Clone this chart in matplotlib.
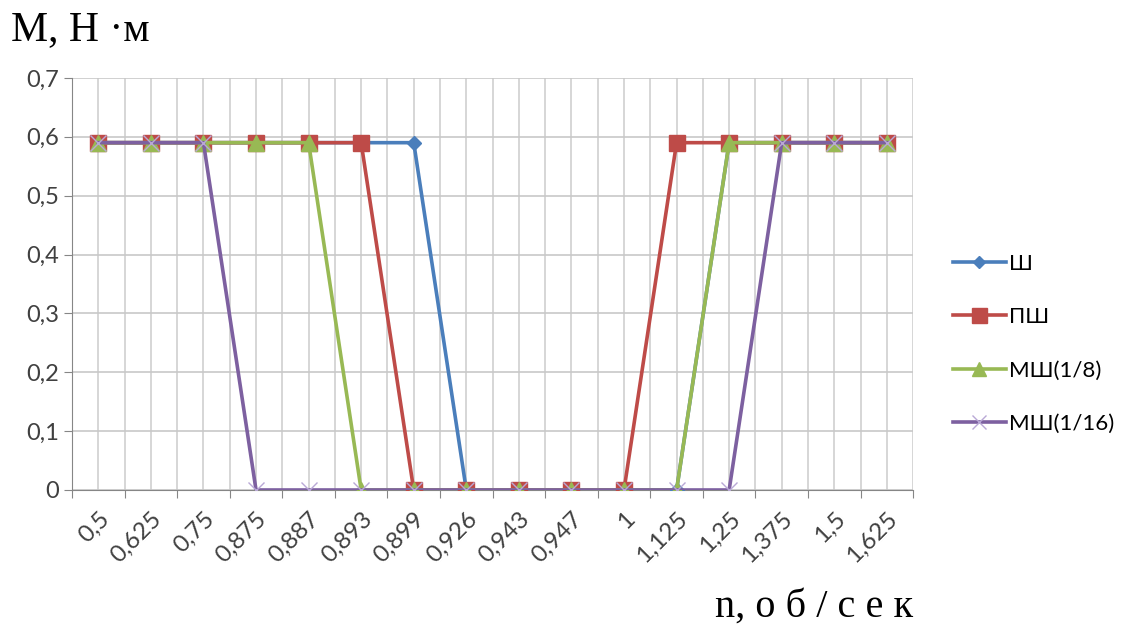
import matplotlib.pyplot as plt
from matplotlib.ticker import MultipleLocator, FuncFormatter

# speed categories, n (rev/s)
speeds = ['0,5', '0,625', '0,75', '0,875', '0,887', '0,893', '0,899', '0,926',
          '0,943', '0,947', '1', '1,125', '1,25', '1,375', '1,5', '1,625']

# torque M, N*m
sh     = [0.59, 0.59, 0.59, 0.59, 0.59, 0.59, 0.59, 0, 0, 0, 0, 0, 0.59, 0.59, 0.59, 0.59]
psh    = [0.59, 0.59, 0.59, 0.59, 0.59, 0.59, 0, 0, 0, 0, 0, 0.59, 0.59, 0.59, 0.59, 0.59]
msh8   = [0.59, 0.59, 0.59, 0.59, 0.59, 0, 0, 0, 0, 0, 0, 0, 0.59, 0.59, 0.59, 0.59]
msh16  = [0.59, 0.59, 0.59, 0, 0, 0, 0, 0, 0, 0, 0, 0, 0, 0.59, 0.59, 0.59]

names = ['Ш', 'ПШ', 'МШ(1/8)', 'МШ(1/16)']

fig = plt.figure(figsize=(11.29, 6.32), dpi=100)
ax = fig.add_axes([0.0638, 0.2247, 0.745, 0.652])

x = list(range(len(speeds)))
ax.plot(x, sh, color='#4a7ebb', lw=2.6, marker='D', ms=7, label=names[0], zorder=3)
ax.plot(x, psh, color='#be4b48', lw=2.6, marker='s', ms=12, label=names[1], zorder=3)
ax.plot(x, msh8, color='#98b954', lw=2.6, marker='^', ms=11, label=names[2], zorder=3)
ax.plot(x, msh16, color='#7d60a0', lw=2.6, marker='x', ms=11, mew=1,
        mec='#b9a8d6', label=names[3], zorder=3)

ax.set_xlim(-0.5, len(speeds) - 0.5)
ax.set_ylim(0, 0.7)
ax.yaxis.set_major_locator(MultipleLocator(0.1))
ax.yaxis.set_major_formatter(FuncFormatter(lambda v, p: ('%g' % round(v, 1)).replace('.', ',')))

# ticks at category boundaries, labels at centres
ax.set_xticks([i - 0.5 for i in range(len(speeds) + 1)])
ax.set_xticklabels([])
ax.set_xticks(x, minor=True)
ax.set_xticklabels(speeds, minor=True, rotation=45, ha='right', va='top',
                   rotation_mode='anchor', color='#404040', family='Lato')
ax.tick_params(axis='x', which='major', length=6, color='#868686')
ax.tick_params(axis='x', which='minor', length=0, pad=13, labelsize=17.5)
ax.tick_params(axis='y', length=6, color='#868686', labelsize=17, labelcolor='#404040')
for lbl in ax.get_yticklabels():
    lbl.set_family('Lato')

ax.grid(True, which='both', axis='x', color='#d0d0d0', lw=1.2)
ax.grid(True, which='major', axis='y', color='#c8c8c8', lw=1.2)
ax.set_axisbelow(True)
for s in ['top', 'right']:
    ax.spines[s].set_visible(False)
ax.spines['left'].set_color('#868686')
ax.spines['bottom'].set_color('#868686')

fig.legend(loc='center left', bbox_to_anchor=(0.826, 0.456), frameon=False,
           prop={'family': 'Lato', 'size': 16}, handlelength=2.4, labelspacing=1.5,
           handletextpad=0.15, markerscale=0.9)

fig.text(0.01, 0.952, 'М, Н ·м', fontsize=30, family='Liberation Serif', va='center')
fig.text(0.633, 0.04, 'n, о б / с е к', fontsize=29, family='Liberation Serif', va='center')

fig.savefig('out.png', dpi=100)
